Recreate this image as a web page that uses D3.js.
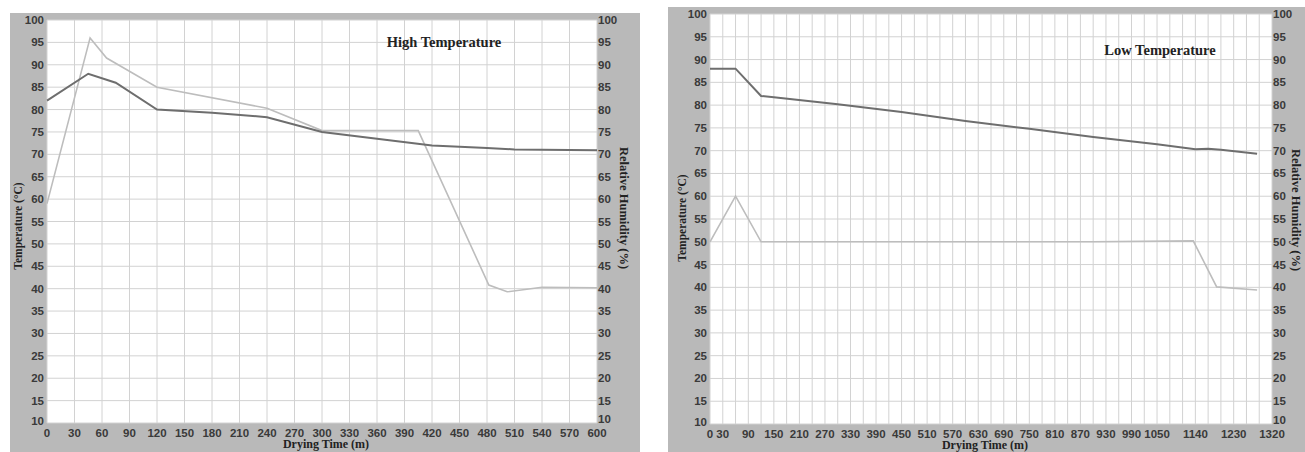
<!DOCTYPE html>
<html>
<head>
<meta charset="utf-8">
<script src="https://cdn.jsdelivr.net/npm/d3@7"></script>
<style>
  body { margin: 0; background: #fff; }
  svg { display: block; }
</style>
</head>
<body>
<div id="chart"></div>
<script>
const width = 1305;
const height = 452;

// High temperature run (0-600 min)
const highTime = [0, 45, 75, 120, 180, 240, 300, 360, 420, 480, 510, 600];
const highTemp = [82, 88, 86, 80, 79.3, 78.3, 75, 73.5, 72, 71.4, 71.1, 70.9];
const highHumTime = [0, 47, 65, 120, 240, 300, 405, 482, 502, 540, 600];
const highHum = [59, 96, 91.5, 85, 80.3, 75.3, 75.3, 40.8, 39.3, 40.3, 40.2];
const highTicks = d3.range(0, 601, 30);

// Low temperature run (0-1320 min)
const lowTime = [0, 60, 120, 150, 300, 450, 600, 750, 900, 1050, 1140, 1170, 1200, 1285];
const lowTemp = [88, 88, 82, 81.7, 80.2, 78.5, 76.5, 74.8, 73, 71.4, 70.3, 70.4, 70.2, 69.3];
const lowHumTime = [0, 60, 120, 450, 900, 1135, 1190, 1285];
const lowHum = [50, 60, 50, 50, 50, 50.2, 40.1, 39.4];
const lowTicks = [0, 30, 90, 150, 210, 270, 330, 390, 450, 510, 570, 630, 690, 750, 810, 870, 930, 990, 1050, 1140, 1230, 1320];

const yTicks = d3.range(10, 101, 5);

const svg = d3.select("#chart").append("svg")
  .attr("width", width)
  .attr("height", height);

function drawChart(cfg) {
  const g = svg.append("g");

  // gray frame
  g.append("rect")
    .attr("x", cfg.frame[0]).attr("y", cfg.frame[1])
    .attr("width", cfg.frame[2] - cfg.frame[0])
    .attr("height", cfg.frame[3] - cfg.frame[1])
    .attr("fill", "#b9b9b9");

  const x = d3.scaleLinear().domain([0, cfg.xMax]).range([cfg.plot[0], cfg.plot[2]]);
  const y = d3.scaleLinear().domain([10, 100]).range([cfg.plot[3], cfg.plot[1]]);

  g.append("rect")
    .attr("x", cfg.plot[0]).attr("y", cfg.plot[1])
    .attr("width", cfg.plot[2] - cfg.plot[0])
    .attr("height", cfg.plot[3] - cfg.plot[1])
    .attr("fill", "#fff");

  // grid
  g.append("g").selectAll("line").data(d3.range(0, cfg.xMax + 1, 30)).join("line")
    .attr("x1", d => x(d)).attr("x2", d => x(d))
    .attr("y1", cfg.plot[1]).attr("y2", cfg.plot[3])
    .attr("stroke", "#d2d2d2").attr("stroke-width", 1);
  g.append("g").selectAll("line").data(yTicks).join("line")
    .attr("x1", cfg.plot[0]).attr("x2", cfg.plot[2])
    .attr("y1", d => y(d)).attr("y2", d => y(d))
    .attr("stroke", "#d2d2d2").attr("stroke-width", 1);

  // tick labels
  const tickFont = "'Liberation Sans', Arial, sans-serif";
  g.append("g").selectAll("text").data(yTicks).join("text")
    .attr("x", cfg.plot[0] - 3).attr("y", d => y(d) - (d === 10 ? 2 : 0))
    .attr("dy", "0.35em").attr("text-anchor", "end")
    .attr("font-family", tickFont).attr("font-size", 11.5).attr("font-weight", "bold")
    .attr("fill", "#3a3a3a").text(d => d);
  g.append("g").selectAll("text").data(yTicks).join("text")
    .attr("x", cfg.plot[2] + 1).attr("y", d => y(d) - (d === 10 ? 4 : 0))
    .attr("dy", "0.35em").attr("text-anchor", "start")
    .attr("font-family", tickFont).attr("font-size", 11.5).attr("font-weight", "bold")
    .attr("fill", "#3a3a3a").text(d => d);
  g.append("g").selectAll("text").data(cfg.xTicks).join("text")
    .attr("x", d => x(d)).attr("y", cfg.plot[3] + 9.5)
    .attr("dy", "0.35em").attr("text-anchor", "middle")
    .attr("font-family", tickFont).attr("font-size", 11.5).attr("font-weight", "bold")
    .attr("fill", "#3a3a3a").text(d => d);

  // lines
  const line = d3.line().x(d => x(d[0])).y(d => y(d[1]));
  g.append("path")
    .datum(d3.zip(cfg.humTime, cfg.hum))
    .attr("d", line).attr("fill", "none")
    .attr("stroke", "#bdbdbd").attr("stroke-width", 1.6);
  g.append("path")
    .datum(d3.zip(cfg.tempTime, cfg.temp))
    .attr("d", line).attr("fill", "none")
    .attr("stroke", "#6e6e6e").attr("stroke-width", 2);

  // titles
  const serif = "'Liberation Serif', 'Times New Roman', serif";
  g.append("text")
    .attr("x", cfg.title[0]).attr("y", cfg.title[1])
    .attr("text-anchor", "middle")
    .attr("font-family", serif).attr("font-size", 14.5).attr("font-weight", "bold")
    .attr("fill", "#222").text(cfg.titleText);
  g.append("text")
    .attr("x", cfg.xLabel[0]).attr("y", cfg.xLabel[1])
    .attr("text-anchor", "middle")
    .attr("font-family", serif).attr("font-size", 12).attr("font-weight", "bold")
    .attr("fill", "#222").text("Drying Time (m)");
  g.append("text")
    .attr("transform", `translate(${cfg.yLabel[0]},${cfg.yLabel[1]}) rotate(-90)`)
    .attr("text-anchor", "middle").attr("dy", "0.35em")
    .attr("font-family", serif).attr("font-size", 11.5).attr("font-weight", "bold")
    .attr("fill", "#222").text("Temperature (°C)");
  g.append("text")
    .attr("transform", `translate(${cfg.y2Label[0]},${cfg.y2Label[1]}) rotate(90)`)
    .attr("text-anchor", "middle").attr("dy", "0.35em")
    .attr("font-family", serif).attr("font-size", 12.5).attr("font-weight", "bold")
    .attr("fill", "#222").text("Relative Humidity (%)");
}

drawChart({
  frame: [10, 13, 640, 452],
  plot: [47, 20, 597, 423],
  xMax: 600,
  xTicks: highTicks,
  tempTime: highTime, temp: highTemp,
  humTime: highHumTime, hum: highHum,
  titleText: "High Temperature",
  title: [444, 47],
  xLabel: [326, 448],
  yLabel: [18, 226],
  y2Label: [624, 208]
});

drawChart({
  frame: [668, 7, 1305, 452],
  plot: [710, 14, 1272, 424],
  xMax: 1320,
  xTicks: lowTicks,
  tempTime: lowTime, temp: lowTemp,
  humTime: lowHumTime, hum: lowHum,
  titleText: "Low Temperature",
  title: [1160, 55],
  xLabel: [985, 449],
  yLabel: [682, 218],
  y2Label: [1296, 210]
});
</script>
</body>
</html>
